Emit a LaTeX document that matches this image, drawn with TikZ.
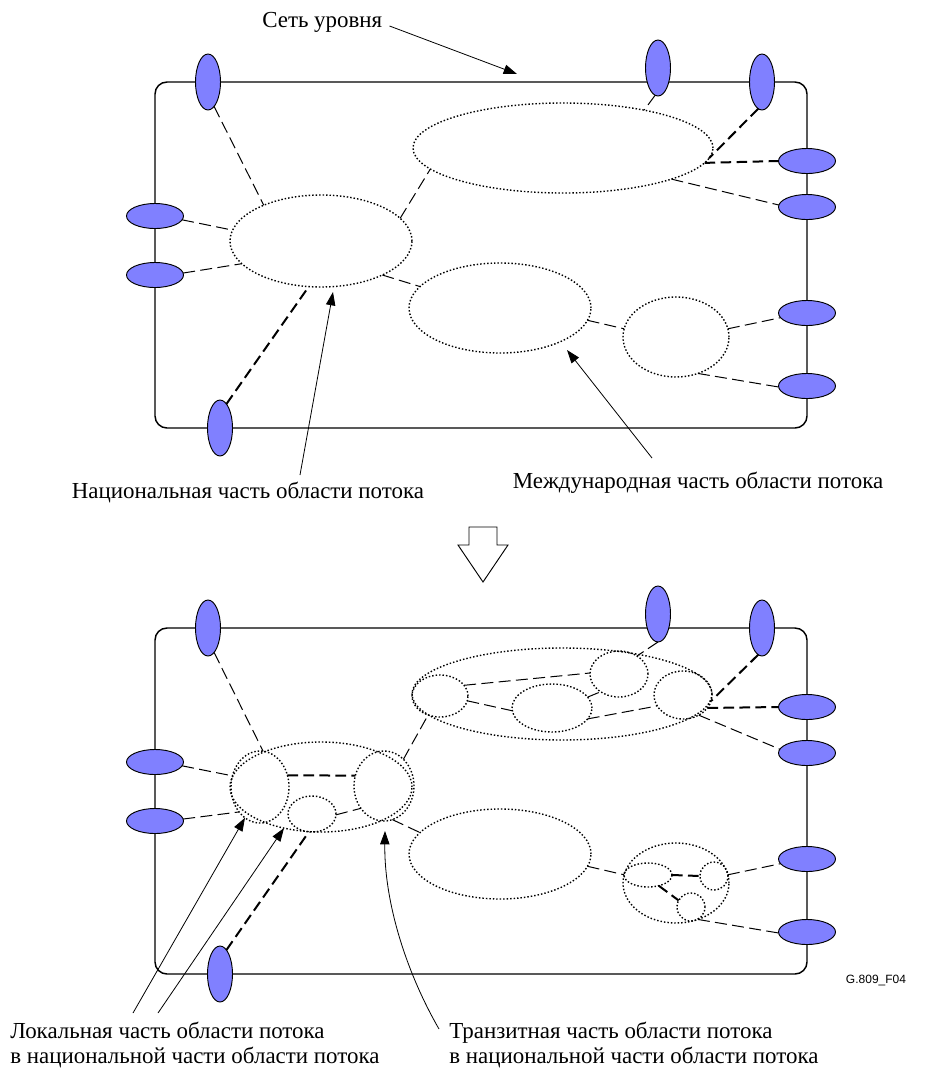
\documentclass[tikz,border=0pt]{standalone}
\usepackage{fontspec}
\setmainfont{Liberation Serif}
\newfontfamily\tagfont{Liberation Sans}
\usetikzlibrary{shapes.geometric,arrows.meta}
\definecolor{portblue}{HTML}{8080FF}
\begin{document}
\begin{tikzpicture}[x=0.75pt,y=-0.75pt,
  area/.style n args={2}{ellipse, draw, inner sep=0pt, outer sep=0pt,
    minimum width=#1*1.5pt, minimum height=#2*1.5pt,
    line width=1.05pt, dash pattern=on 1.1pt off 1.5pt},
  port/.style={ellipse, draw, fill=portblue, line width=0.7pt, inner sep=0pt, outer sep=0pt},
  portv/.style={port, minimum width=18.75pt, minimum height=42pt},
  porth/.style={port, minimum width=42.75pt, minimum height=18.75pt},
  link/.style={line width=0.75pt, dash pattern=on 9pt off 4pt},
  trunk/.style={line width=1.5pt, dash pattern=on 8pt off 4pt},
  pointer/.style={line width=0.6pt, -{Triangle[length=10pt,width=7pt]}},
  frame/.style={line width=1.1pt, rounded corners=9pt},
  caption/.style={font=\fontsize{17.2}{18.75}\selectfont, inner sep=0pt, align=left},
]
\path[use as bounding box] (0,0) rectangle (928,1068);

% level network frames with their ports (upper and lower views)
\foreach \s/\oy in {a/0,b/546}{
  \begin{scope}[shift={(0,\oy)}]
    \draw[frame] (155,82) rectangle (807,428);
    \node[portv] (tl\s) at (208,82) {};
    \node[portv] (tm\s) at (658,68) {};
    \node[portv] (tr\s) at (762,82) {};
    \node[porth] (ra\s) at (807,161) {};
    \node[porth] (rb\s) at (807,207) {};
    \node[porth] (rc\s) at (807,313) {};
    \node[porth] (rd\s) at (807,386) {};
    \node[porth] (la\s) at (155,216) {};
    \node[porth] (lb\s) at (155,275) {};
    \node[portv] (bt\s) at (220,428) {};
  \end{scope}
}

% ---------- upper view: flow domain parts ----------
\node[area={91}{46}] (nat) at (321,241) {};
\node[area={150}{45}] (intl) at (563,148) {};
\node[area={91}{45}] (mid) at (500,308) {};
\node[area={53}{40}] (edge) at (676,337) {};

\draw[link] (tla.-76) -- (nat.148);
\draw[link] (laa.-8) -- (nat.173);
\draw[link] (lba.4) -- (nat.196);
\draw[trunk] (bta.75) -- (nat.255);
\draw[link] (nat.16) -- (intl.189);
\draw[link] (nat.-29) -- (mid.165);
\draw[link] (mid.-8) -- (edge.171);
\draw[link] (edge.9) -- (rca.190);
\draw[link] (edge.-59) -- (rda.182);
\draw[link] (tma.-96) -- (intl.25);
\draw[trunk] (tra.-98) -- (intl.-4);
\draw[trunk] (intl.-6.5) -- (raa.180);
\draw[link] (intl.-16) -- (rba.176);

% labels and pointers of the upper view
\node[caption, anchor=west] (netcap) at (262,22) {Сеть уровня};
\coordinate (nettip) at (517,74);
\draw[pointer] ([shift={(7,4)}]netcap.east) -- (nettip);

\node[caption] (natcap) at (248,492) {Национальная часть области потока};
\coordinate (natfoot) at (300,475);
\coordinate (nattip) at (333,292);
\draw[pointer] (natfoot) -- (nattip);

\node[caption] (intlcap) at (698,483) {Международная часть области потока};
\coordinate (intlfoot) at (652,458);
\coordinate (intltip) at (567,350);
\draw[pointer] (intlfoot) -- (intltip);

% refinement arrow
\draw[line width=0.7pt] (469,527) -- (497,527) -- (497,545) -- (508,545)
  -- (483,582) -- (458,545) -- (469,545) -- cycle;

% ---------- lower view: refined flow domain parts ----------
\node[area={91}{45}] (natO) at (321,787) {};
\node[area={29}{36}] (natL) at (260,787) {};
\node[area={30}{35}] (natT) at (384,786) {};
\node[area={24}{18}] (natS) at (312,814) {};
\node[area={150}{46}] (intlO) at (562,694) {};
\node[area={28}{21}] (iA) at (440,696) {};
\node[area={40}{24}] (iB) at (552,708) {};
\node[area={29}{23}] (iC) at (619,674) {};
\node[area={29}{24}] (iD) at (683,695) {};
\node[area={91}{45}] (midL) at (500,854) {};
\node[area={53}{40}] (edgeO) at (676,883) {};
\node[area={24}{12}] (eA) at (648,875) {};
\node[area={14}{14}] (eB) at (714,876) {};
\node[area={14}{14}] (eC) at (691,907) {};

\draw[link] (tlb.-76) -- (natL.85);
\draw[link] (lab.-8) -- (natL.158.6);
\draw[link] (lbb.4) -- (natL.230);
\draw[trunk] (btb.75) -- (natO.255);
\draw[trunk] (natL.23) -- (natT.160);
\draw[link] (natS.-2) -- (natT.224);
\draw[link] (natT.54) -- (iA.238);
\draw[link] (natT.-76) -- (midL.165);
\draw[link] (midL.-8) -- (edgeO.171);
\draw[link] (edgeO.9) -- (rcb.190);
\draw[link] (edgeO.-59) -- (rdb.182);
\draw[trunk] (eA.0) -- (eB.180);
\draw[trunk] (eA.-45) -- (eC.152);
\draw[link] (tmb.-90) -- (iC.45);
\draw[trunk] (trb.-98) -- (iD.-12);
\draw[trunk] (iD.-28) -- (rab.180);
\draw[link] (iD.-52) -- (rbb.172);
\draw[link] (iA.24) -- (iC.178);
\draw[link] (iA.-10) -- (iB.184);
\draw[link] (iB.17) -- (iC.224);
\draw[link] (iB.-17) -- (iD.203);

% labels and pointers of the lower view
\node[caption, anchor=north west] (loccap) at (10,1022)
  {Локальная часть области потока\\в национальной части области потока};
\coordinate (locfootA) at (133,1013);
\coordinate (locfootB) at (158,1013);
\draw[pointer] (locfootA) -- (natL.244);
\draw[pointer] (locfootB) -- (natO.228);

\node[caption, anchor=north west] (trcap) at (449,1022)
  {Транзитная часть области потока\\в национальной части области потока};
\coordinate (trfoot) at (439,1029);
\coordinate (trtip) at (385,831);
\draw[pointer] (trfoot) .. controls (405,970) and (384,900) .. (trtip);

\node[font=\tagfont\fontsize{9}{11}\selectfont, inner sep=0pt] (figtag) at (876,980) {G.809\_F04};
\end{tikzpicture}
\end{document}
